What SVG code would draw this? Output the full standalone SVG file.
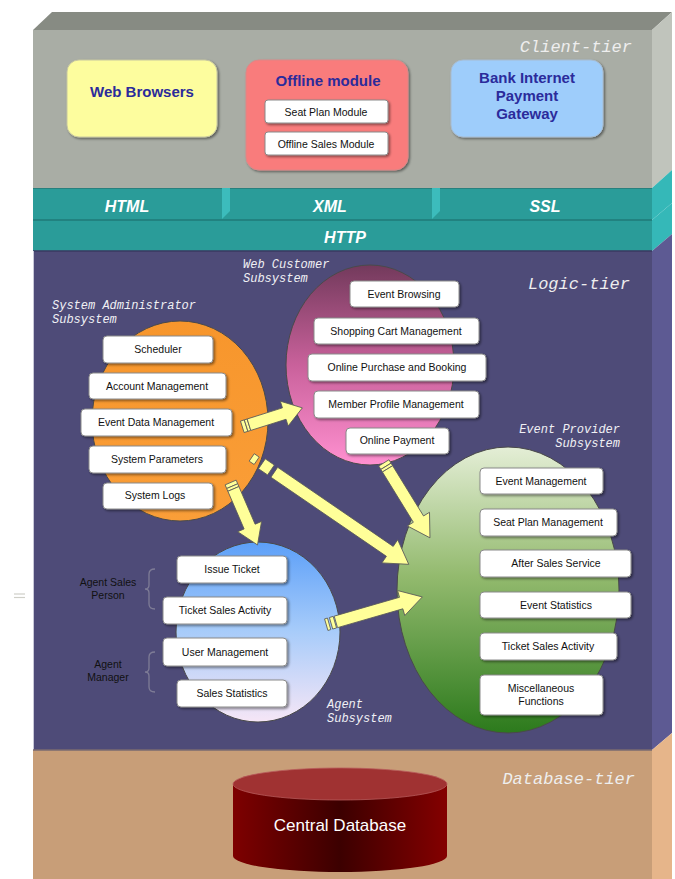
<svg xmlns="http://www.w3.org/2000/svg" width="675" height="879" viewBox="0 0 675 879">
<defs>
<linearGradient id="gPink" x1="0" y1="0" x2="0" y2="1"><stop offset="0" stop-color="#733a5c"/><stop offset="0.5" stop-color="#c9619b"/><stop offset="1" stop-color="#ff90d0"/></linearGradient>
<linearGradient id="gBlue" x1="0" y1="0" x2="0" y2="1"><stop offset="0" stop-color="#5c9ff8"/><stop offset="0.5" stop-color="#a8ccfa"/><stop offset="1" stop-color="#f6e6f6"/></linearGradient>
<linearGradient id="gGreen" x1="0" y1="0" x2="0" y2="1"><stop offset="0" stop-color="#e4eed6"/><stop offset="0.45" stop-color="#93ba6e"/><stop offset="1" stop-color="#2c7a1c"/></linearGradient>
<linearGradient id="gOrange" x1="0" y1="0" x2="0" y2="1"><stop offset="0" stop-color="#f7962c"/><stop offset="1" stop-color="#fa9e38"/></linearGradient>
<linearGradient id="gDb" x1="0" y1="0" x2="1" y2="0"><stop offset="0" stop-color="#7e0000"/><stop offset="0.5" stop-color="#3c0000"/><stop offset="1" stop-color="#840000"/></linearGradient>
<filter id="sh" x="-10%" y="-10%" width="130%" height="140%"><feDropShadow dx="1.5" dy="1.5" stdDeviation="0.8" flood-color="#000" flood-opacity="0.45"/></filter>
<style>
.box{fill:#fff;stroke:#8a8a8a;stroke-width:1;filter:url(#sh)}
.bt{font-family:"Liberation Sans",Arial,sans-serif;font-size:10.5px;fill:#111;text-anchor:middle}
.sub{font-family:"Liberation Mono","Courier New",monospace;font-style:italic;font-size:12px;fill:#f0f0f4}
.tier{font-family:"Liberation Mono","Courier New",monospace;font-style:italic;font-size:17px;fill:#eeeeee}
.band{font-family:"Liberation Sans",Arial,sans-serif;font-style:italic;font-weight:bold;font-size:16px;fill:#fff;text-anchor:middle}
.ct{font-family:"Liberation Sans",Arial,sans-serif;font-weight:bold;font-size:15px;fill:#2b2b9b;text-anchor:middle}
.lab{font-family:"Liberation Sans",Arial,sans-serif;font-size:10.5px;fill:#111;text-anchor:middle}
.arr{fill:#ffff99;stroke:#5a5a5a;stroke-width:0.8}
.ell{stroke:#4a4a4a;stroke-width:1}
.brace{fill:none;stroke:#7e7c96;stroke-width:1.3}
</style>
</defs>

<!-- tiers -->
<g id="client-tier">
<polygon points="33,30 52,12 672,12 652,30" fill="#878b83"/>
<polygon points="652,30 672,12 672,170 652,188" fill="#c0c4bc"/>
<rect x="33" y="30" width="619" height="158" fill="#a9ada5"/>
<text class="tier" x="632" y="52" text-anchor="end">Client-tier</text>
</g>
<g id="protocol-band">
<polygon points="652,188 672,170 672,203 652,220" fill="#35b8b8"/>
<rect x="33" y="188" width="619" height="32" fill="#2a9c99"/>
<line x1="33" y1="188.5" x2="652" y2="188.5" stroke="#27807e"/>
<polygon points="222,188 230,188 230,211 222,219" fill="#3cbcbc"/>
<polygon points="432,188 440,188 440,211 432,219" fill="#3cbcbc"/>
<text class="band" x="127" y="212">HTML</text>
<text class="band" x="330" y="212">XML</text>
<text class="band" x="545" y="212">SSL</text>
</g>
<g id="http-band">
<polygon points="652,220 672,203 672,234 652,251" fill="#35b8b8"/>
<rect x="33" y="220" width="619" height="31" fill="#2a9c99"/>
<line x1="33" y1="220" x2="652" y2="220" stroke="#1f7a78" stroke-width="1.5"/>
<text class="band" x="345" y="243">HTTP</text>
</g>
<g id="logic-tier">
<polygon points="652,251 672,234 672,733 652,750" fill="#5d5a93"/>
<rect x="33" y="251" width="619" height="499" fill="#4e4b78"/>
<line x1="33" y1="251" x2="652" y2="251" stroke="#3a3860" stroke-width="1.5"/>
<line x1="33.5" y1="251" x2="33.5" y2="750" stroke="#c8c8d8" stroke-width="1"/>
<text class="tier" x="630" y="289" text-anchor="end">Logic-tier</text>
</g>
<g id="database-tier">
<polygon points="652,750 672,733 672,879 652,879" fill="#e6b58a"/>
<rect x="33" y="750" width="619" height="129" fill="#c89e78"/>
<line x1="33" y1="750" x2="652" y2="750" stroke="#7a6a70" stroke-width="1.5"/>
<text class="tier" x="635" y="784" text-anchor="end">Database-tier</text>
</g>
<g id="margin-mark"><line x1="14" y1="594" x2="25" y2="594" stroke="#cfcfc8" stroke-width="1.2"/><line x1="14" y1="597.5" x2="25" y2="597.5" stroke="#cfcfc8" stroke-width="1.2"/></g>

<!-- client nodes -->
<g id="web-browsers">
<rect x="67" y="60" width="150" height="77" rx="12" fill="#fdfd9e" stroke="#c8c8a0" filter="url(#sh)"/>
<text class="ct" x="142" y="97">Web Browsers</text>
</g>
<g id="offline-module">
<rect x="246" y="60" width="162" height="110" rx="13" fill="#f97b7b" stroke="#d88" filter="url(#sh)"/>
<text class="ct" x="328" y="86">Offline module</text>
<rect class="box" x="265" y="100" width="123" height="23" rx="3"/>
<text class="bt" x="326" y="115.5">Seat Plan Module</text>
<rect class="box" x="265" y="132" width="123" height="23" rx="3"/>
<text class="bt" x="326" y="147.5">Offline Sales Module</text>
</g>
<g id="bank-gateway">
<rect x="451" y="60" width="152" height="77" rx="12" fill="#9ecdfb" stroke="#a8bcd0" filter="url(#sh)"/>
<text class="ct" x="527" y="83">Bank Internet</text>
<text class="ct" x="527" y="101">Payment</text>
<text class="ct" x="527" y="119">Gateway</text>
</g>

<!-- subsystem ellipses -->
<g id="web-customer-subsystem">
<ellipse class="ell" cx="370" cy="365" rx="84" ry="100" fill="url(#gPink)"/>
<text class="sub" x="243" y="268">Web Customer</text>
<text class="sub" x="243" y="282">Subsystem</text>
</g>
<g id="sysadmin-subsystem">
<ellipse class="ell" cx="180" cy="421" rx="88" ry="100" fill="url(#gOrange)"/>
<text class="sub" x="52" y="309">System Administrator</text>
<text class="sub" x="52" y="323">Subsystem</text>
</g>
<g id="agent-subsystem">
<ellipse class="ell" cx="258" cy="632" rx="82" ry="90" fill="url(#gBlue)"/>
<text class="sub" x="327" y="708">Agent</text>
<text class="sub" x="327" y="722">Subsystem</text>
</g>
<g id="event-provider-subsystem">
<ellipse class="ell" cx="508" cy="590" rx="111" ry="143" fill="url(#gGreen)"/>
<text class="sub" x="620" y="433" text-anchor="end">Event Provider</text>
<text class="sub" x="620" y="447" text-anchor="end">Subsystem</text>
</g>

<!-- connectors -->
<g id="connectors">
<g transform="translate(248,425) rotate(-17.5)">
<rect class="arr" x="-6" y="-6" width="4" height="12"/><rect class="arr" x="-2" y="-6" width="3" height="12"/>
<path class="arr" d="M1,-6 H38 V-13 L57,0 L38,13 V6 H1 Z"/>
</g>
<g transform="translate(252,457) rotate(34.4)">
<rect class="arr" x="0" y="-4" width="6" height="9"/>
<rect class="arr" x="12" y="-6" width="11" height="12"/>
<path class="arr" d="M27,-6 H167 V-14 L190,0 L167,14 V6 H27 Z"/>
</g>
<g transform="translate(233,488) rotate(66.7)">
<rect class="arr" x="-6" y="-6" width="4" height="12"/><rect class="arr" x="-2" y="-6" width="3" height="12"/>
<path class="arr" d="M1,-6 H42 V-13 L62,0 L42,13 V6 H1 Z"/>
</g>
<g transform="translate(387,468) rotate(58.4)">
<rect class="arr" x="-6" y="-6" width="4" height="12"/><rect class="arr" x="-2" y="-6" width="3" height="12"/>
<path class="arr" d="M1,-6 H60 V-13 L82,0 L60,13 V6 H1 Z"/>
</g>
<g transform="translate(332,623) rotate(-16.1)">
<rect class="arr" x="-6" y="-6" width="3" height="12"/><rect class="arr" x="-1" y="-6" width="4" height="12"/>
<path class="arr" d="M4,-6 H72 V-13 L94,0 L72,13 V6 H4 Z"/>
</g>
</g>

<!-- sysadmin boxes -->
<g id="scheduler"><rect class="box" x="103" y="336" width="110" height="27" rx="4"/><text class="bt" x="158" y="353">Scheduler</text></g>
<g id="account-management"><rect class="box" x="89" y="373" width="137" height="26" rx="4"/><text class="bt" x="157" y="390">Account Management</text></g>
<g id="event-data-management"><rect class="box" x="81" y="409" width="151" height="27" rx="4"/><text class="bt" x="156" y="426">Event Data Management</text></g>
<g id="system-parameters"><rect class="box" x="89" y="446" width="137" height="27" rx="4"/><text class="bt" x="157" y="463">System Parameters</text></g>
<g id="system-logs"><rect class="box" x="103" y="483" width="110" height="26" rx="4"/><text class="bt" x="155" y="499">System Logs</text></g>

<!-- web customer boxes -->
<g id="event-browsing"><rect class="box" x="350" y="281" width="109" height="26" rx="4"/><text class="bt" x="404" y="298">Event Browsing</text></g>
<g id="shopping-cart"><rect class="box" x="314" y="318" width="165" height="26" rx="4"/><text class="bt" x="396" y="335">Shopping Cart Management</text></g>
<g id="online-purchase"><rect class="box" x="308" y="354" width="178" height="27" rx="4"/><text class="bt" x="397" y="371">Online Purchase and Booking</text></g>
<g id="member-profile"><rect class="box" x="314" y="391" width="165" height="27" rx="4"/><text class="bt" x="396" y="408">Member Profile Management</text></g>
<g id="online-payment"><rect class="box" x="346" y="428" width="103" height="26" rx="4"/><text class="bt" x="397" y="444">Online Payment</text></g>

<!-- agent boxes -->
<g id="issue-ticket"><rect class="box" x="177" y="556" width="110" height="27" rx="4"/><text class="bt" x="232" y="573">Issue Ticket</text></g>
<g id="agent-ticket-sales"><rect class="box" x="163" y="597" width="124" height="27" rx="4"/><text class="bt" x="225" y="614">Ticket Sales Activity</text></g>
<g id="user-management"><rect class="box" x="163" y="638" width="124" height="28" rx="4"/><text class="bt" x="225" y="656">User Management</text></g>
<g id="sales-statistics"><rect class="box" x="177" y="680" width="110" height="27" rx="4"/><text class="bt" x="232" y="697">Sales Statistics</text></g>

<g id="agent-sales-person">
<text class="lab" x="108" y="586">Agent Sales</text>
<text class="lab" x="108" y="599">Person</text>
<path class="brace" d="M155,569 Q149,569 149,574 V585 Q149,589 145,589 Q149,589 149,593 V604 Q149,609 155,609"/>
</g>
<g id="agent-manager">
<text class="lab" x="108" y="668">Agent</text>
<text class="lab" x="108" y="681">Manager</text>
<path class="brace" d="M155,652 Q149,652 149,657 V668 Q149,672 145,672 Q149,672 149,676 V687 Q149,692 155,692"/>
</g>

<!-- event provider boxes -->
<g id="event-management"><rect class="box" x="480" y="468" width="123" height="26" rx="4"/><text class="bt" x="541" y="485">Event Management</text></g>
<g id="seat-plan-management"><rect class="box" x="480" y="509" width="137" height="27" rx="4"/><text class="bt" x="548" y="526">Seat Plan Management</text></g>
<g id="after-sales-service"><rect class="box" x="480" y="550" width="151" height="27" rx="4"/><text class="bt" x="556" y="567">After Sales Service</text></g>
<g id="event-statistics"><rect class="box" x="480" y="592" width="151" height="26" rx="4"/><text class="bt" x="556" y="609">Event Statistics</text></g>
<g id="ep-ticket-sales"><rect class="box" x="480" y="633" width="137" height="27" rx="4"/><text class="bt" x="548" y="650">Ticket Sales Activity</text></g>
<g id="misc-functions"><rect class="box" x="480" y="675" width="123" height="40" rx="4"/><text class="bt" x="541" y="692">Miscellaneous</text><text class="bt" x="541" y="705">Functions</text></g>

<!-- database -->
<g id="central-database">
<path d="M233,784 V856 A107,16 0 0 0 447,856 V784 Z" fill="url(#gDb)"/>
<ellipse cx="340" cy="784" rx="107" ry="16" fill="#a03232" stroke="#b85a5a" stroke-width="0.8"/>
<text x="340" y="831" font-family="'Liberation Sans',Arial,sans-serif" font-size="17" fill="#fff" text-anchor="middle">Central Database</text>
</g>
</svg>
